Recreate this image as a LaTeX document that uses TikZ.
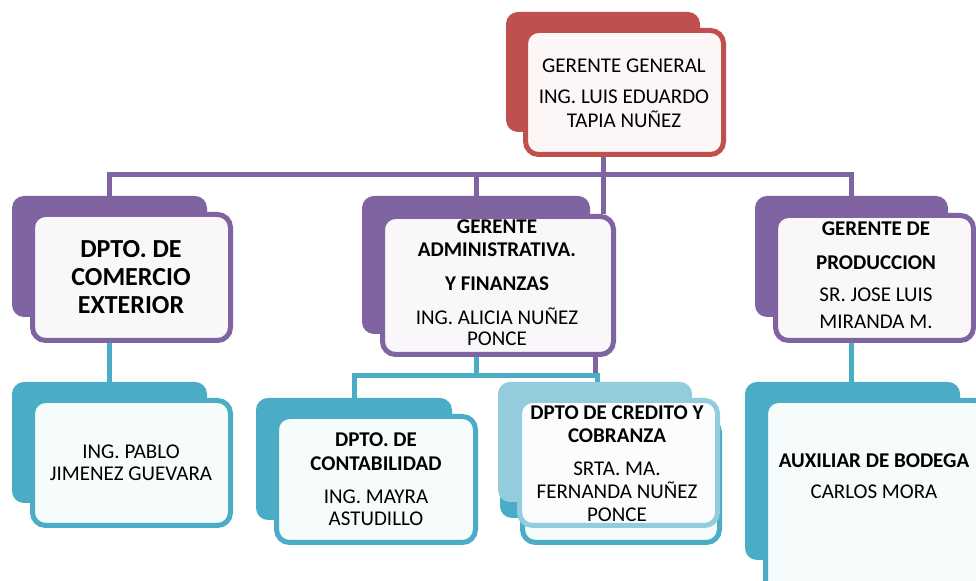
\documentclass[tikz,border=0pt]{standalone}
\usepackage{fontspec}
\setmainfont{Carlito}
\usetikzlibrary{backgrounds}
\definecolor{rojo}{HTML}{C0504D}
\definecolor{morado}{HTML}{8064A2}
\definecolor{celeste}{HTML}{4BACC6}
\definecolor{claro}{HTML}{93CDDD}

\begin{document}
\begin{tikzpicture}[x=0.5pt,y=-0.5pt,
    fondo/.style={fill=#1,rounded corners=6pt,inner sep=0pt},
    frente/.style={draw=#1,fill=#1!5!white,line width=2.5pt,rounded corners=6.5pt,inner sep=0pt},
    texto/.style={align=center,inner sep=0pt,font=\fontsize{10.5}{11.5}\selectfont},
    grande/.style={texto,font=\fontsize{13}{14}\selectfont\bfseries},
    linea/.style={draw=#1,line width=2.5pt}]
    \clip (0,0) rectangle (976,581);
    % gerente general
    \node[fondo=rojo,minimum width=97pt,minimum height=60pt] (ggb) at (603,72) {};
    \node[frente=rojo,minimum width=99pt,minimum height=62pt] (ggf) at (624.5,92.5) {};
    \node[texto] (ggt) at (624,93) {GERENTE GENERAL\\[4pt] ING. LUIS EDUARDO\\[0.5pt] TAPIA NUÑEZ};
    % segundo nivel
    \node[fondo=morado,minimum width=97.5pt,minimum height=60.5pt] (comb) at (109.5,256.5) {};
    \node[frente=morado,minimum width=99pt,minimum height=63pt] (comf) at (131.5,277.5) {};
    \node[grande] (comt) at (131,277) {DPTO. DE\\ COMERCIO\\ EXTERIOR};
    \node[fondo=morado,minimum width=114pt,minimum height=69pt] (admb) at (476,265) {};
    \node[frente=morado,minimum width=115.5pt,minimum height=69pt] (admf) at (498,285.5) {};
    \node[texto] (admt) at (497,282.5) {\textbf{GERENTE}\\ \textbf{ADMINISTRATIVA.}\\[5.5pt] \textbf{Y FINANZAS}\\[5.5pt] ING. ALICIA NUÑEZ\\[-1pt] PONCE};
    \node[fondo=morado,minimum width=96.5pt,minimum height=60.5pt] (prodb) at (851.5,256.5) {};
    \node[frente=morado,minimum width=99pt,minimum height=62.5pt] (prodf) at (874.5,278) {};
    \node[texto] (prodt) at (876,275.5) {\textbf{GERENTE DE}\\[5.5pt] \textbf{PRODUCCION}\\[4.5pt] SR. JOSE LUIS\\[1.8pt] MIRANDA M.};
    % tercer nivel
    \node[fondo=celeste,minimum width=97.5pt,minimum height=60.5pt] (pabb) at (109.5,442.5) {};
    \node[frente=celeste,minimum width=99pt,minimum height=62.5pt] (pabf) at (131.5,463) {};
    \node[texto] (pabt) at (131,462.5) {ING. PABLO\\[-0.5pt] JIMENEZ GUEVARA};
    \node[fondo=celeste,minimum width=98pt,minimum height=61pt] (conb) at (354,459) {};
    \node[frente=celeste,minimum width=99.5pt,minimum height=63pt] (conf) at (376,479.5) {};
    \node[texto] (cont) at (376,479) {\textbf{DPTO. DE}\\[0.5pt] \textbf{CONTABILIDAD}\\[5pt] ING. MAYRA\\[-0.5pt] ASTUDILLO};
    \node[fondo=celeste,minimum width=97pt,minimum height=60pt] (crdb) at (597,458) {};
    \node[frente=celeste,minimum width=98.5pt,minimum height=61.5pt] (crdf) at (621,481) {};
    \node[fondo=claro,minimum width=97pt,minimum height=60pt] (crlb) at (595,442) {};
    \node[frente=claro,minimum width=99pt,minimum height=62.5pt] (crlf) at (618.5,463) {};
    \node[texto] (crt) at (617,463.5) {\textbf{DPTO DE CREDITO Y}\\ \textbf{COBRANZA}\\[5pt] SRTA. MA.\\ FERNANDA NUÑEZ\\ PONCE};
    \node[fondo=celeste,minimum width=107.5pt,minimum height=89pt] (auxb) at (852.5,471) {};
    \node[frente=celeste,minimum width=111pt,minimum height=98.5pt] (auxf) at (876.5,499) {};
    \node[texto] (auxt) at (874,476) {\textbf{AUXILIAR DE BODEGA}\\[4pt] CARLOS MORA};
    % lineas
    \coordinate (bus) at (0,175);
    \coordinate (cbus) at (0,376);
    \begin{scope}[on background layer]
    \fill[white] (0,0) rectangle (976,581);
    \draw[linea=morado] (ggb.south) -- (ggb.south |- admf.north);
    \draw[linea=morado] (comb.north) |- (prodb.north |- bus) -- (prodb.north);
    \draw[linea=morado] (admb.north) -- (admb.north |- bus);
    \draw[linea=morado] (admf.south -| crlb.north) -- (crlb.north |- cbus);
    \draw[linea=celeste] (comb.south) -- (pabb.north);
    \draw[linea=celeste] (prodb.south) -- (prodb.south |- auxb.north);
    \draw[linea=celeste] (admb.south) -- (admb.south |- cbus);
    \draw[linea=celeste] (conb.north) |- (crdb.north |- cbus) -- (crdb.north);
    \end{scope}
\end{tikzpicture}
\end{document}
